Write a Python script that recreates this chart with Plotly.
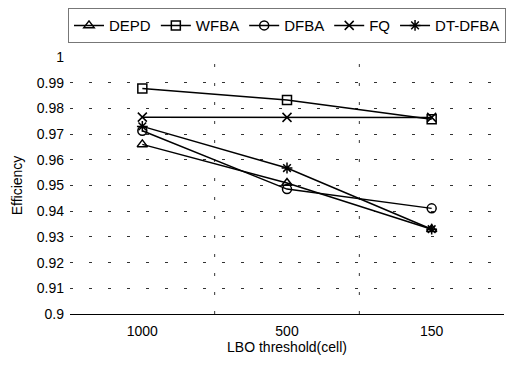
import plotly.graph_objects as go

categories = ["1000", "500", "150"]
depd = [0.966, 0.951, 0.933]
wfba = [0.9877, 0.9833, 0.9758]
dfba = [0.9713, 0.9486, 0.9411]
fq = [0.9766, 0.9765, 0.9765]
dtdfba = [0.973, 0.9568, 0.933]
y_ticks = [0.9, 0.91, 0.92, 0.93, 0.94, 0.95, 0.96, 0.97, 0.98, 0.99, 1.0]
y_labels = ["0.9", "0.91", "0.92", "0.93", "0.94", "0.95", "0.96", "0.97", "0.98", "0.99", "1"]

series = [
    ("DEPD", depd, "triangle-up-open"),
    ("WFBA", wfba, "square-open"),
    ("DFBA", dfba, "circle-open"),
    ("FQ", fq, "x-thin-open"),
    ("DT-DFBA", dtdfba, "asterisk-open"),
]

fig = go.Figure()
for name, vals, sym in series:
    fig.add_trace(go.Scatter(
        x=categories, y=vals, name=name, mode="lines+markers",
        line=dict(color="black", width=1.5),
        marker=dict(symbol=sym, size=9, color="black", line=dict(color="black", width=1.5)),
    ))

for xb in [0.5, 1.5]:
    fig.add_shape(type="line", xref="x", yref="y", x0=xb, x1=xb, y0=0.9, y1=1.0,
                  line=dict(color="#333", width=1, dash="3px,16px"), layer="below")

fig.update_layout(
    width=506, height=370,
    margin=dict(l=70, r=2, t=57, b=56),
    paper_bgcolor="white", plot_bgcolor="white",
    font=dict(family="Liberation Sans, Arial, sans-serif", size=14, color="black"),
    showlegend=True,
    legend=dict(orientation="h", x=0.56, xanchor="center", y=0.978, yanchor="top",
                yref="container", bordercolor="#777", borderwidth=1,
                font=dict(size=15), itemwidth=30, tracegroupgap=0),
    xaxis=dict(type="category", range=[-0.5, 2.5], showgrid=False, showline=True,
               linecolor="black", linewidth=1, ticks="", zeroline=False,
               ticklabelstandoff=4,
               title=dict(text="LBO threshold(cell)", standoff=4, font=dict(size=14)),
               tickfont=dict(size=14)),
    yaxis=dict(range=[0.9, 1.0], tickvals=y_ticks, ticktext=y_labels, showgrid=True,
               gridcolor="#333", griddash="3px,16px", gridwidth=1, zeroline=False,
               showline=False, ticks="", ticklabelstandoff=5,
               title=dict(text="Efficiency", standoff=10, font=dict(size=14)),
               tickfont=dict(size=14)),
)

fig.write_html("out.html")
